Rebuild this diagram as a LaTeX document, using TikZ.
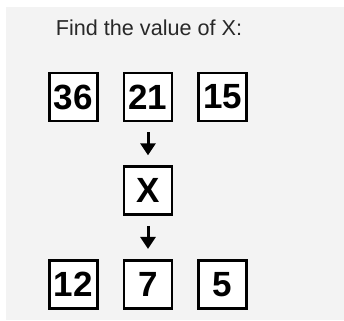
\documentclass[tikz,border=0pt]{standalone}
\usepackage{fontspec}
\setmainfont{Liberation Sans}
\usepackage{xcolor}
\usepackage{tikz}
\usetikzlibrary{arrows.meta, positioning}
\definecolor{bgcol}{RGB}{243,243,243}
\definecolor{txtcol}{RGB}{40,40,40}

\begin{document}
\begin{tikzpicture}[
x=1pt, y=1pt,
node distance=43pt and 24pt,
>={Triangle[width=15pt,length=12pt]},
box/.style={draw, line width=2.6pt, minimum size=48pt, inner sep=0pt, fill=white,
  font=\fontsize{35}{40}\selectfont\bfseries},
link/.style={->, line width=3pt, shorten <=10pt, shorten >=10pt}
]

% --- Fond ---
\useasboundingbox (0,0) rectangle (344,-320);
\fill[bgcol] (6,-7) rectangle (344,-320);

% --- Titre ---
\node[text=txtcol, font=\fontsize{21.6}{24}\selectfont] (title) at (149,-28) {Find the value of X:};

% --- Ligne du haut ---
\node[box] (n21) at (148,-97) {21};
\node[box, left=of n21] (n36) {36};
\node[box, right=of n21] (n15) {15};

% --- Milieu ---
\node[box, below=of n21] (nX) {X};

% --- Ligne du bas ---
\node[box, below=of nX] (n7) {7};
\node[box, left=of n7] (n12) {12};
\node[box, right=of n7] (n5) {5};

% --- Flèches ---
\draw[link] (n21.south) -- (nX.north);
\draw[link] (nX.south) -- (n7.north);

\end{tikzpicture}
\end{document}
